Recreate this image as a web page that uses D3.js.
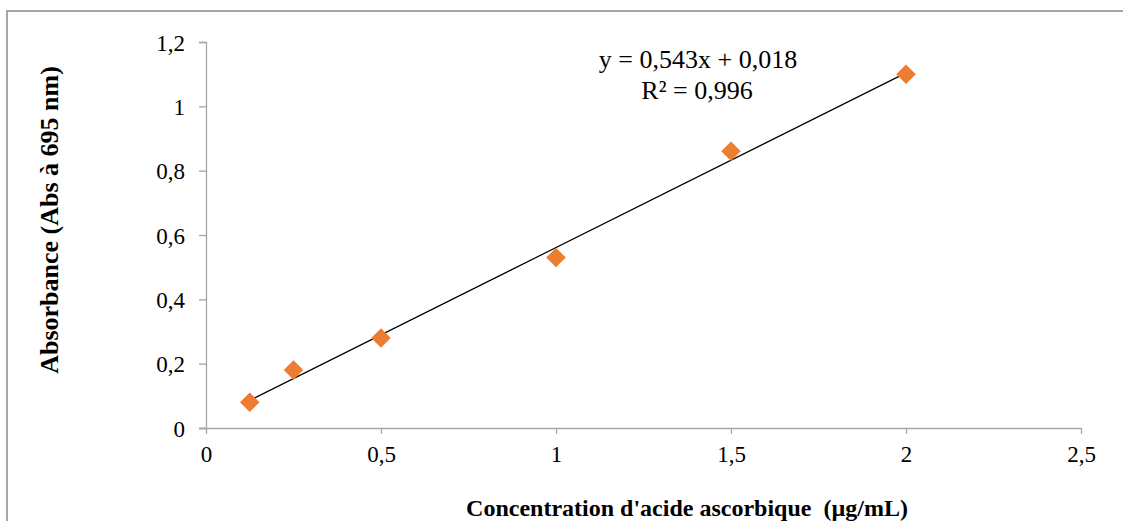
<!DOCTYPE html>
<html><head><meta charset="utf-8">
<script src="https://cdn.jsdelivr.net/npm/d3@7"></script>
<style>html,body{margin:0;padding:0;background:#fff;overflow:hidden}</style>
</head><body>
<svg id="c" width="1123" height="521"></svg>
<script>
const concentrations = [0.125, 0.25, 0.5, 1, 1.5, 2];
const absorbances = [0.08, 0.18, 0.28, 0.53, 0.86, 1.10];
const xTicks = [0, 0.5, 1, 1.5, 2, 2.5];
const yTicks = [0, 0.2, 0.4, 0.6, 0.8, 1, 1.2];
const slope = 0.543, intercept = 0.018;
const eqLabel = "y = 0,543x + 0,018";
const r2Label = "R² = 0,996";
const xTitle = "Concentration d'acide ascorbique  (µg/mL)";
const yTitle = "Absorbance (Abs à 695 nm)";

const svg = d3.select("#c");
const font = "'Liberation Serif','Times New Roman',serif";
const fmt = d => String(d).replace(".", ",");

svg.append("rect").attr("x",7).attr("y",11).attr("width",1140).attr("height",540)
  .attr("fill","#fff").attr("stroke","#a6a6a6").attr("stroke-width",2);

const x = d3.scaleLinear().domain([0,2.5]).range([206,1081]);
const y = d3.scaleLinear().domain([0,1.2]).range([428,42]);

const gx = svg.append("g").attr("transform","translate(0,428)")
  .call(d3.axisBottom(x).tickValues(xTicks).tickFormat(fmt).tickSize(6).tickPadding(12));
const gy = svg.append("g").attr("transform","translate(206,0)")
  .call(d3.axisLeft(y).tickValues(yTicks).tickFormat(fmt).tickSize(7).tickPadding(14));
[gx,gy].forEach(g=>{
  g.selectAll("path,line").attr("stroke","#a6a6a6").attr("stroke-width",1.3);
  g.selectAll("text").attr("font-family",font).attr("font-size",23).attr("fill","#000");
});
gx.select("path").attr("d","M199,0.5H1081");
gy.selectAll("text").attr("dy","0.35em");

svg.append("line")
  .attr("x1",x(concentrations[0])).attr("y1",y(slope*concentrations[0]+intercept))
  .attr("x2",x(concentrations[concentrations.length-1])).attr("y2",y(slope*concentrations[concentrations.length-1]+intercept))
  .attr("stroke","#000").attr("stroke-width",1.2);

const sym = d3.symbol().type(d3.symbolSquare).size(190);
svg.append("g").selectAll("path").data(concentrations).join("path")
  .attr("d",sym)
  .attr("transform",(d,i)=>`translate(${x(d)},${y(absorbances[i])}) rotate(45)`)
  .attr("fill","#ED7D31");

svg.append("text").attr("x",698).attr("y",68).attr("text-anchor","middle")
  .attr("font-family",font).attr("font-size",26).text(eqLabel);
svg.append("text").attr("x",697).attr("y",99).attr("text-anchor","middle")
  .attr("font-family",font).attr("font-size",26).text(r2Label);

svg.append("text").attr("x",687).attr("y",516).attr("text-anchor","middle")
  .style("white-space","pre")
  .attr("font-family",font).attr("font-size",24).attr("font-weight","bold").text(xTitle);
svg.append("text").attr("transform","translate(58,220) rotate(-90)").attr("text-anchor","middle")
  .attr("font-family",font).attr("font-size",26).attr("font-weight","bold").text(yTitle);
</script>
</body></html>
